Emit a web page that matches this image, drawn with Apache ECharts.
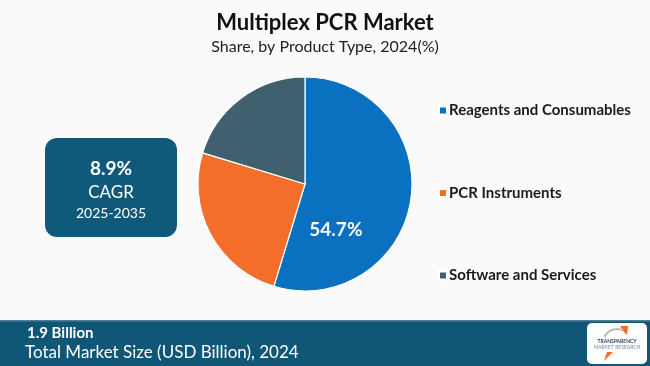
<!DOCTYPE html>
<html><head><meta charset="utf-8">
<script src="https://cdn.jsdelivr.net/npm/echarts@6/dist/echarts.min.js"></script>
<style>html,body{margin:0;padding:0;background:#fafafa}#c{width:650px;height:366px}</style>
</head><body><div id="c"></div>
<script>
var categories = ["Reagents and Consumables", "PCR Instruments", "Software and Services"];
var shares = [54.7, 25.0, 20.3];
var colors = ["#0a70c0", "#f36d2b", "#41606f"];
var titleText = "Multiplex PCR Market";
var subtitleText = "Share, by Product Type, 2024(%)";
var cagrText = ["8.9%", "CAGR", "2025-2035"];
var marketText = ["1.9 Billion", "Total Market Size (USD Billion), 2024"];

var chart = echarts.init(document.getElementById('c'), null, {renderer: 'canvas'});
var data = categories.map(function (c, i) {
  return {name: c, value: shares[i], itemStyle: {color: colors[i]},
    label: {show: i === 0}};
});
chart.setOption({
  backgroundColor: '#fafafa',
  animation: false,
  title: {
    text: titleText, subtext: subtitleText, left: 'center', top: 7, itemGap: 5,
    textStyle: {fontFamily: 'Lato', fontWeight: 'bold', fontSize: 22, color: '#111'},
    subtextStyle: {fontFamily: 'Lato', fontSize: 16, color: '#222'}
  },
  legend: {
    orient: 'vertical', left: 433, top: 98, itemGap: 67.5,
    itemWidth: 8, itemHeight: 8, icon: 'rect',
    textStyle: {fontFamily: 'Lato', fontWeight: 'bold', fontSize: 15, color: '#1a1a1a', padding: [0, 0, 0, -3]},
    data: categories
  },
  series: [{
    type: 'pie', center: [305, 184], radius: [0, 107], startAngle: 90, clockwise: true,
    itemStyle: {borderColor: '#fff', borderWidth: 1.2},
    label: {position: 'inside', formatter: '{c}%', color: '#fff', fontFamily: 'Lato', fontWeight: 'bold', fontSize: 19, offset: [-25, 38]},
    labelLine: {show: false},
    emphasis: {disabled: true},
    data: data
  }],
  graphic: [
    {type: 'rect', shape: {x: 45, y: 138, width: 132, height: 99, r: 12}, style: {fill: '#0f5a7a'}},
    {type: 'text', x: 111, y: 169, style: {text: cagrText[0], fill: '#fff', font: 'bold 19px Lato', align: 'center', verticalAlign: 'middle'}},
    {type: 'text', x: 111, y: 193, style: {text: cagrText[1], fill: '#fff', font: '17px Lato', align: 'center', verticalAlign: 'middle'}},
    {type: 'text', x: 111, y: 213, style: {text: cagrText[2], fill: '#fff', font: '14px Lato', align: 'center', verticalAlign: 'middle'}},
    {type: 'rect', shape: {x: 0, y: 321, width: 650, height: 45}, style: {fill: '#0f5677'}},
    {type: 'rect', shape: {x: 0, y: 320, width: 650, height: 1.5}, style: {fill: '#4d7f96'}},
    {type: 'text', x: 27, y: 333, style: {text: marketText[0], fill: '#fff', font: 'bold 15px Lato', verticalAlign: 'middle'}},
    {type: 'text', x: 25, y: 353, style: {text: marketText[1], fill: '#fff', font: '17px Lato', verticalAlign: 'middle'}},
    {type: 'rect', shape: {x: 587, y: 323, width: 60, height: 41, r: 5}, style: {fill: '#fff'}},
    {type: 'text', x: 617, y: 341, style: {text: 'TRANSPARENCY', fill: '#1f3d5a', font: 'bold 5px Lato', align: 'center', verticalAlign: 'middle'}},
    {type: 'text', x: 617, y: 347, style: {text: 'MARKET RESEARCH', fill: '#7a8a99', font: '5px Lato', align: 'center', verticalAlign: 'middle'}},
    {type: 'polygon', shape: {points: [[620, 326], [628, 326], [627, 335], [624, 332]]}, style: {fill: '#f36d2b'}},
    {type: 'polygon', shape: {points: [[604, 361], [607, 352], [613, 352]]}, style: {fill: '#f36d2b'}},
    {type: 'arc', shape: {cx: 617, cy: 343, r: 14, startAngle: 3.6, endAngle: 5.2}, style: {stroke: '#bbb', lineWidth: 2, fill: null}}
  ]
});
</script></body></html>
